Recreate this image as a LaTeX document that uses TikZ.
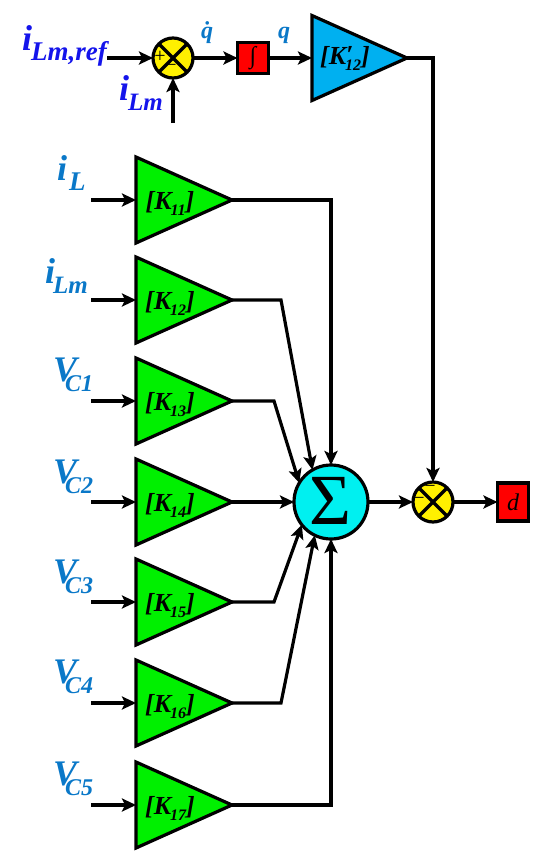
\documentclass[tikz,border=0pt]{standalone}
\usepackage{fontspec}
\setmainfont{Liberation Serif}
\usetikzlibrary{shapes.geometric,arrows.meta}
\definecolor{lblblue}{RGB}{10,120,200}
\definecolor{refblue}{RGB}{20,20,235}
\definecolor{gaingreen}{RGB}{0,240,0}
\definecolor{gainblue}{RGB}{0,176,240}
\definecolor{sumcyan}{RGB}{0,240,240}
\definecolor{junyellow}{RGB}{255,240,0}
\newcommand{\kgain}[1]{\fontsize{26}{26}\selectfont\bfseries\itshape [K\kern-1pt\raisebox{-6.5pt}{\fontsize{16}{16}\selectfont #1}]}
% symbol, kern, subscript size, subscript
\newcommand{\sym}[4]{\fontsize{36}{36}\selectfont\bfseries\itshape #1\kern#2pt\raisebox{-10.5pt}{\fontsize{#3}{#3}\selectfont #4}}
\tikzset{
  x=1pt,y=-1pt,
  gain/.style={isosceles triangle,isosceles triangle stretches,shape border rotate=0,draw=black,line width=3.2pt,fill=gaingreen,minimum width=86pt,minimum height=96pt,inner sep=0pt,outer sep=0pt,anchor=lower side,line join=miter},
  gainb/.style={gain,fill=gainblue,minimum width=85pt,minimum height=95pt},
  glabel/.style={inner sep=0pt,text=black,anchor=base},
  wire/.style={line width=3.2pt,draw=black,line join=miter},
  arr/.style={wire,-{Stealth[length=14pt,width=13pt,inset=3pt]}},
  jun/.style={circle,draw=black,line width=3.2pt,fill=junyellow,minimum size=40pt,inner sep=0pt,outer sep=0pt},
  redbox/.style={draw=black,line width=3.2pt,fill=red,minimum width=31pt,inner sep=0pt,outer sep=0pt},
  inlab/.style={inner sep=0pt,text=lblblue,anchor=base west},
  reflab/.style={inner sep=0pt,text=refblue,anchor=base west},
  dotlab/.style={inner sep=0pt,text=lblblue,anchor=base,font=\fontsize{24}{24}\selectfont\bfseries\itshape},
  signlab/.style={inner sep=0pt,font=\fontsize{20}{20}\selectfont},
}
\begin{document}
\begin{tikzpicture}
\useasboundingbox (0,0) rectangle (550,863);
\foreach \n/\yy/\s in {1/200/11,2/300/12,3/401/13,4/502/14,5/602/15,6/703/16,7/805/17}{
  \node[gain] (k\n) at (136,\yy) {};
  \node[glabel] (kl\n) at (170,\yy+9) {\kgain{\s}};
  \coordinate (in\n) at (91,\yy);
  \draw[arr] (in\n) -- (k\n.lower side);
}
\node[gainb] (kb) at (312,58) {};
\node[glabel] (klb) at (345,64) {\fontsize{26}{26}\selectfont\bfseries\itshape [K\kern-1pt\raisebox{-6.5pt}{\rlap{\raisebox{7pt}{\fontsize{26}{26}\selectfont\kern1pt ′}}\fontsize{16}{16}\selectfont 12}]};
% summer and junctions
\node[circle,draw=black,line width=3.2pt,fill=sumcyan,minimum size=74pt,inner sep=0pt,outer sep=0pt] (sum) at (331,502) {};
\node[inner sep=0pt] (sig) at (330,501) {\fontsize{72}{72}\selectfont Σ};
\node[jun] (j1) at (173,58) {};
\draw[wire] (j1.north west) -- (j1.south east) (j1.north east) -- (j1.south west);
\node[jun] (j2) at (433,502) {};
\draw[wire] (j2.north west) -- (j2.south east) (j2.north east) -- (j2.south west);
\node[signlab] (p1) at (160,56.5) {+};
\node[signlab] (m1) at (171,67.5) {−};
\node[signlab] (m2) at (430,488.5) {−};
\node[signlab] (m3) at (419,500.5) {−};
% boxes
\node[redbox,minimum height=31pt] (int) at (253,58) {\fontsize{24}{24}\selectfont\itshape ∫};
\node[redbox,minimum height=38pt] (d) at (513,502) {\fontsize{24}{24}\selectfont\itshape d};
% labels
\node[reflab] (lref) at (22,50) {\sym{i}{-1}{27}{Lm,ref}};
\node[reflab] (llm) at (119,100) {\sym{i}{-1}{25}{Lm}};
\node[dotlab] (qd) at (207,38) {\.q};
\node[dotlab] (q) at (284,38) {q};
\node[inlab] (l1) at (57,180) {\sym{i}{2}{27}{L}};
\node[inlab] (l2) at (45,283) {\sym{i}{-2}{25}{Lm}};
\node[inlab] (l3) at (53,381) {\sym{V}{-12}{24}{C1}};
\node[inlab] (l4) at (53,483) {\sym{V}{-12}{24}{C2}};
\node[inlab] (l5) at (53,583) {\sym{V}{-12}{24}{C3}};
\node[inlab] (l6) at (53,683) {\sym{V}{-12}{24}{C4}};
\node[inlab] (l7) at (53,785) {\sym{V}{-12}{24}{C5}};
% top path
\coordinate (a) at (107,58);
\coordinate (b) at (173,123);
\draw[arr] (a) -- (j1);
\draw[arr] (b) -- (j1);
\draw[arr] (j1) -- (int);
\draw[arr] (int) -- (kb.lower side);
\draw[arr] (kb.apex) -| (j2);
% into summer
\coordinate (b2) at (281,300);
\coordinate (b3) at (274,401);
\coordinate (b5) at (274,602);
\coordinate (b6) at (281,703);
\draw[arr] (k1.apex) -| (sum);
\draw[arr] (k2.apex) -- (b2) -- (sum.120);
\draw[arr] (k3.apex) -- (b3) -- (sum.149);
\draw[arr] (k4.apex) -- (sum);
\draw[arr] (k5.apex) -- (b5) -- (sum.218);
\draw[arr] (k6.apex) -- (b6) -- (sum.244);
\draw[arr] (k7.apex) -| (sum);
\draw[arr] (sum) -- (j2);
\draw[arr] (j2) -- (d);
\end{tikzpicture}
\end{document}
